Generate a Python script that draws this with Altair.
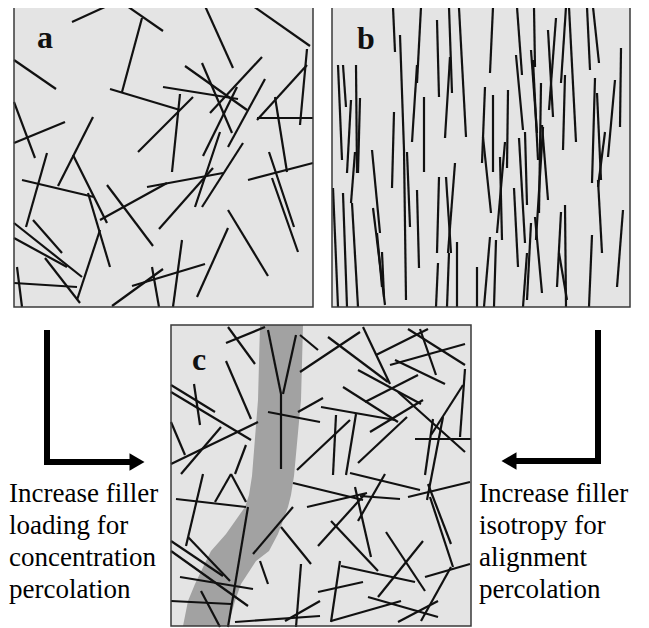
import altair as alt
import pandas as pd

# ---------------- data (stick end points, local px inside each panel) ----------------
a_sticks = [
    (58, 18, 93, 2), (113, 2, 149, 27), (128, 14, 108, 88), (96, 85, 166, 106),
    (191, 2, 219, 64), (239, 2, 296, 42), (0, 56, 42, 85), (171, 62, 233, 106),
    (188, 59, 218, 129), (149, 83, 224, 95), (196, 109, 248, 53), (166, 90, 158, 168),
    (124, 148, 179, 93), (293, 45, 286, 121), (293, 61, 243, 116), (243, 114, 299, 114),
    (261, 93, 273, 168), (234, 176, 299, 159), (251, 75, 214, 143), (223, 83, 189, 152),
    (206, 128, 181, 203), (229, 139, 188, 203), (255, 148, 280, 223), (258, 174, 284, 248),
    (214, 206, 254, 272), (0, 98, 21, 154), (0, 139, 51, 118), (79, 113, 44, 182),
    (33, 149, 12, 223), (8, 176, 80, 193), (59, 151, 93, 219), (93, 181, 139, 242),
    (133, 183, 209, 169), (86, 216, 153, 179), (145, 225, 199, 164), (0, 219, 68, 273),
    (0, 234, 53, 263), (19, 216, 48, 249), (74, 189, 96, 263), (86, 226, 63, 296),
    (31, 254, 66, 299), (0, 279, 63, 283), (3, 263, 8, 303), (98, 302, 149, 265),
    (118, 282, 191, 260), (138, 263, 145, 303), (168, 236, 159, 303), (214, 224, 183, 293),
]

b_sticks = [
    (61, 3, 63, 48), (89, 3, 85, 79), (68, 31, 72, 146), (117, 3, 120, 89),
    (127, 4, 134, 133), (105, 16, 107, 93), (85, 61, 80, 138), (118, 53, 113, 134),
    (6, 61, 10, 156), (11, 61, 14, 103), (24, 61, 25, 169), (28, 94, 26, 169),
    (19, 96, 15, 169), (23, 148, 19, 199), (62, 108, 60, 184), (92, 93, 92, 168),
    (40, 146, 48, 229), (75, 148, 78, 223), (72, 146, 74, 296), (1, 184, 6, 303),
    (11, 189, 15, 303), (20, 199, 26, 303), (41, 204, 53, 301), (45, 229, 50, 283),
    (50, 248, 52, 293), (85, 186, 87, 264), (107, 173, 105, 249), (114, 173, 119, 249),
    (123, 159, 116, 249), (106, 259, 104, 303), (117, 249, 115, 303), (125, 238, 125, 303),
    (145, 263, 145, 303), (161, 3, 158, 69), (185, 3, 190, 71), (202, 3, 203, 63),
    (184, 51, 191, 126), (199, 46, 205, 129), (201, 56, 206, 156), (216, 26, 221, 113),
    (224, 14, 217, 106), (234, 3, 229, 79), (237, 3, 244, 138), (233, 71, 231, 146),
    (255, 3, 258, 66), (261, 3, 267, 59), (289, 44, 288, 123), (283, 76, 276, 153),
    (263, 74, 260, 179), (265, 89, 269, 176), (273, 128, 266, 183), (266, 176, 270, 249),
    (153, 83, 150, 159), (151, 133, 159, 209), (161, 91, 161, 168), (176, 86, 175, 164),
    (173, 138, 165, 229), (168, 153, 170, 236), (187, 134, 193, 239), (193, 128, 195, 201),
    (209, 79, 207, 209), (210, 121, 216, 196), (211, 123, 204, 236), (182, 184, 186, 263),
    (203, 213, 210, 289), (199, 219, 195, 296), (195, 249, 191, 303), (158, 233, 152, 303),
    (164, 236, 162, 303), (229, 208, 225, 283), (233, 201, 234, 303), (227, 249, 235, 296),
    (260, 231, 257, 303), (291, 206, 285, 283),
]

c_sticks = [
    (55, 18, 94, 2), (57, 2, 84, 39), (55, 36, 80, 94), (23, 59, 29, 100),
    (0, 60, 44, 87), (0, 67, 80, 115), (0, 97, 14, 130), (0, 139, 87, 97),
    (50, 102, 10, 149), (75, 120, 64, 149), (97, 87, 149, 97), (127, 87, 152, 73),
    (129, 47, 189, 7), (129, 10, 147, 25), (97, 5, 110, 69), (125, 10, 112, 69),
    (110, 69, 110, 144), (192, 2, 219, 59), (157, 12, 217, 57), (205, 30, 257, 4),
    (237, 4, 294, 40), (249, 4, 265, 50), (219, 40, 294, 19), (224, 35, 274, 59),
    (187, 45, 250, 79), (172, 62, 227, 97), (194, 77, 247, 50), (294, 44, 289, 112),
    (292, 60, 260, 110), (150, 82, 224, 95), (165, 90, 162, 150), (185, 89, 175, 150),
    (199, 107, 252, 75), (227, 67, 294, 127), (244, 114, 300, 114), (262, 94, 254, 150),
    (187, 138, 236, 92), (126, 145, 179, 95), (272, 92, 256, 175), (179, 148, 249, 165),
    (5, 174, 75, 182), (32, 149, 15, 221), (44, 177, 60, 149), (60, 149, 75, 177),
    (0, 216, 52, 251), (17, 212, 59, 256), (0, 226, 77, 281), (9, 252, 82, 264),
    (0, 276, 60, 279), (30, 266, 49, 302), (77, 182, 57, 302), (122, 182, 82, 229),
    (110, 202, 140, 239), (89, 236, 97, 259), (130, 239, 125, 302), (114, 296, 149, 276),
    (64, 297, 149, 291), (122, 158, 192, 175), (136, 182, 196, 168), (189, 171, 229, 174),
    (147, 221, 194, 169), (160, 196, 207, 246), (184, 162, 200, 232), (214, 149, 187, 196),
    (237, 172, 299, 157), (257, 159, 280, 219), (259, 172, 282, 242), (215, 207, 254, 266),
    (252, 216, 207, 272), (170, 241, 244, 257), (169, 236, 160, 297), (147, 267, 192, 257),
    (197, 272, 267, 292), (160, 296, 230, 276), (227, 297, 267, 276), (254, 252, 299, 239),
    (280, 242, 250, 296),
]

# percolating path in panel c: (y, left edge, right edge), local px
band_y = [0, 75, 151, 170, 182, 209, 226, 236, 259, 276, 301]
band_left = [89, 87, 81, 78, 74, 55, 40, 35, 24, 17, 12]
band_right = [132, 130, 123, 120, 117, 107, 98, 85, 70, 64, 57]

panel_labels = ["a", "b", "c"]
left_text = ["Increase filler", "loading for", "concentration", "percolation"]
right_text = ["Increase filler", "isotropy for", "alignment", "percolation"]

# ---------------- layout (page pixels) ----------------
PANELS = {"a": (14, 4, 299, 303), "b": (332, 4, 298, 303), "c": (171, 325, 300, 301)}
LABEL_POS = {"a": (37, 48), "b": (357, 49), "c": (192, 370)}
TEXT_BASELINES = [502, 534, 566, 598]
LEFT_TEXT_X, RIGHT_TEXT_X = 9, 479

sticks = {"a": a_sticks, "b": b_sticks, "c": c_sticks}
rows = []
for p, lst in sticks.items():
    x0, y0, _, _ = PANELS[p]
    for (x1, y1, x2, y2) in lst:
        rows.append({"panel": p, "x": x0 + x1, "y": y0 + y1, "x2": x0 + x2, "y2": y0 + y2})
stick_df = pd.DataFrame(rows)

panel_df = pd.DataFrame([
    {"panel": p, "x": v[0], "y": v[1], "x2": v[0] + v[2], "y2": v[1] + v[3]}
    for p, v in PANELS.items()
])

cx0, cy0, _, _ = PANELS["c"]
band_df = pd.DataFrame({
    "y": [cy0 + v for v in band_y],
    "x": [cx0 + v for v in band_left],
    "x2": [cx0 + v for v in band_right],
})

label_df = pd.DataFrame([
    {"t": l, "x": LABEL_POS[l][0], "y": LABEL_POS[l][1]} for l in panel_labels
])

text_rows = []
for i, (lt, rt) in enumerate(zip(left_text, right_text)):
    text_rows.append({"t": lt, "x": LEFT_TEXT_X, "y": TEXT_BASELINES[i]})
    text_rows.append({"t": rt, "x": RIGHT_TEXT_X, "y": TEXT_BASELINES[i]})
text_df = pd.DataFrame(text_rows)

arrow_df = pd.DataFrame([
    {"x": 47, "y": 333, "x2": 47, "y2": 462},
    {"x": 47, "y": 462, "x2": 132, "y2": 462},
    {"x": 598, "y": 333, "x2": 598, "y2": 461},
    {"x": 598, "y": 461, "x2": 514, "y2": 461},
])
head_df = pd.DataFrame([
    {"x": 137, "y": 462, "shape": "triangle-right"},
    {"x": 509, "y": 461, "shape": "triangle-left"},
])

# ---------------- chart ----------------
W, H = 633, 620
xs = alt.Scale(domain=[8, 8 + W], nice=False, zero=False)
ys = alt.Scale(domain=[8, 8 + H], nice=False, zero=False, reverse=True)


def X(f):
    return alt.X(f, type="quantitative", scale=xs, axis=None)


def Y(f):
    return alt.Y(f, type="quantitative", scale=ys, axis=None)


bg = alt.Chart(panel_df).mark_rect(fill="#e4e4e4", stroke=None).encode(
    x=X("x"), x2="x2", y=Y("y"), y2="y2")

band = alt.Chart(band_df).mark_area(orient="horizontal", color="#a2a2a2", opacity=1).encode(
    y=Y("y"), x=X("x"), x2="x2")

lines = alt.Chart(stick_df).mark_rule(color="#111111", strokeWidth=2.2).encode(
    x=X("x"), y=Y("y"), x2="x2", y2="y2")

frames = alt.Chart(panel_df).mark_rect(fill=None, stroke="#3a3a3a", strokeWidth=1.5).encode(
    x=X("x"), x2="x2", y=Y("y"), y2="y2")

labels = alt.Chart(label_df).mark_text(
    align="left", baseline="alphabetic", font="Liberation Serif", fontWeight="bold",
    fontSize=32, color="#111").encode(x=X("x"), y=Y("y"), text="t")

arrows = alt.Chart(arrow_df).mark_rule(color="black", strokeWidth=6, strokeCap="square").encode(
    x=X("x"), y=Y("y"), x2="x2", y2="y2")

heads = alt.Chart(head_df).mark_point(filled=True, size=300, color="black", opacity=1).encode(
    x=X("x"), y=Y("y"),
    shape=alt.Shape("shape:N", scale=None, legend=None))

texts = alt.Chart(text_df).mark_text(
    align="left", baseline="alphabetic", font="Liberation Serif",
    fontSize=27, color="black").encode(x=X("x"), y=Y("y"), text="t")

chart = alt.layer(bg, band, lines, frames, labels, arrows, heads, texts).properties(
    width=W, height=H, padding=0, autosize=alt.AutoSizeParams(type="none"),
    background="white",
).configure_view(stroke=None)

chart.save("out.html", embed_options={"renderer": "svg", "actions": False})
